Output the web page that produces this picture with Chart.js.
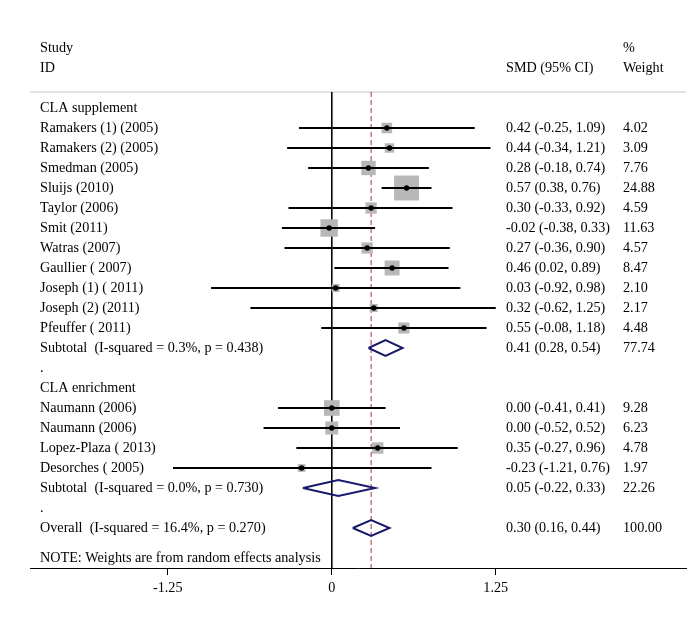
<!DOCTYPE html>
<html><head><meta charset="utf-8">
<script src="https://cdn.jsdelivr.net/npm/chart.js@4/dist/chart.umd.min.js"></script>
<style>html,body{margin:0;padding:0;background:#fff}#wrap{width:696px;height:627px}</style>
</head><body><div id="wrap"><canvas id="c" width="696" height="627"></canvas></div>
<script>
// ---- data ----
const groupNames = ["CLA supplement", "CLA enrichment"];
const studyNames1 = ["Ramakers (1) (2005)", "Ramakers (2) (2005)", "Smedman (2005)", "Sluijs (2010)", "Taylor (2006)", "Smit (2011)", "Watras (2007)", "Gaullier ( 2007)", "Joseph (1) ( 2011)", "Joseph (2) (2011)", "Pfeuffer ( 2011)"];
const smd1 = [0.42, 0.44, 0.28, 0.57, 0.30, -0.02, 0.27, 0.46, 0.03, 0.32, 0.55];
const lo1 = [-0.25, -0.34, -0.18, 0.38, -0.33, -0.38, -0.36, 0.02, -0.92, -0.62, -0.08];
const hi1 = [1.09, 1.21, 0.74, 0.76, 0.92, 0.33, 0.90, 0.89, 0.98, 1.25, 1.18];
const weight1 = [4.02, 3.09, 7.76, 24.88, 4.59, 11.63, 4.57, 8.47, 2.10, 2.17, 4.48];
const studyNames2 = ["Naumann (2006)", "Naumann (2006)", "Lopez-Plaza ( 2013)", "Desorches ( 2005)"];
const smd2 = [0.00, 0.00, 0.35, -0.23];
const lo2 = [-0.41, -0.52, -0.27, -1.21];
const hi2 = [0.41, 0.52, 0.96, 0.76];
const weight2 = [9.28, 6.23, 4.78, 1.97];
const subtotalLabels = ["Subtotal  (I-squared = 0.3%, p = 0.438)", "Subtotal  (I-squared = 0.0%, p = 0.730)"];
const subtotalSmd = [0.41, 0.05];
const subtotalLo = [0.28, -0.22];
const subtotalHi = [0.54, 0.33];
const subtotalWeight = [77.74, 22.26];
const overallLabel = "Overall  (I-squared = 16.4%, p = 0.270)";
const overallSmd = 0.30, overallLo = 0.16, overallHi = 0.44, overallWeight = 100.00;
const noteText = "NOTE: Weights are from random effects analysis";
const xTicks = [-1.25, 0, 1.25];
const xTickLabels = ["-1.25", "0", "1.25"];

// ---- build rows ----
const rows = [];
let r = 0;
function addGroup(name, names, smd, lo, hi, w, si) {
  rows.push({label: name, type: 'head', r: r++});
  names.forEach((n, i) => rows.push({label: n, type: 'study', smd: smd[i], lo: lo[i], hi: hi[i], w: w[i], r: r++}));
  rows.push({label: subtotalLabels[si], type: 'sub', smd: subtotalSmd[si], lo: subtotalLo[si], hi: subtotalHi[si], w: subtotalWeight[si], r: r++});
  rows.push({label: '.', type: 'dot', r: r++});
}
addGroup(groupNames[0], studyNames1, smd1, lo1, hi1, weight1, 0);
addGroup(groupNames[1], studyNames2, smd2, lo2, hi2, weight2, 1);
rows.push({label: overallLabel, type: 'sub', smd: overallSmd, lo: overallLo, hi: overallHi, w: overallWeight, r: r++});
const noteRow = r + 0.5;

const studyRows = rows.filter(o => o.type === 'study');
const diaRows = rows.filter(o => o.type === 'sub');
const X_MIN = -2.3, X_MAX = 2.7, Y_TOP = -0.8, Y_BOT = 23;

const ciData = [];
studyRows.forEach(o => { ciData.push({x: o.lo, y: o.r}, {x: o.hi, y: o.r}, {x: o.hi, y: null}); });
const diaData = [];
diaRows.forEach(o => { diaData.push({x: o.lo, y: o.r}, {x: o.smd, y: o.r - 0.4}, {x: o.hi, y: o.r}, {x: o.smd, y: o.r + 0.4}, {x: o.lo, y: o.r}, {x: o.lo, y: null}); });

const F = '"Liberation Serif", "Times New Roman", serif';
const FS = 14.2;

const textPlugin = {
  id: 'forestText',
  afterDraw(chart) {
    const ctx = chart.ctx, ys = chart.scales.y;
    ctx.save();
    ctx.fillStyle = '#000';
    ctx.font = FS + 'px ' + F;
    ctx.textBaseline = 'middle';
    ctx.textAlign = 'left';
    const Y = v => ys.getPixelForValue(v);
    ctx.fillText('Study', 40, Y(-3));
    ctx.fillText('ID', 40, Y(-2));
    ctx.fillText('SMD (95% CI)', 506, Y(-2));
    ctx.fillText('%', 623, Y(-3));
    ctx.fillText('Weight', 623, Y(-2));
    rows.forEach(o => {
      ctx.fillText(o.label, 40, Y(o.r));
      if (o.type === 'study' || o.type === 'sub') {
        ctx.fillText(`${o.smd.toFixed(2)} (${o.lo.toFixed(2)}, ${o.hi.toFixed(2)})`, 506, Y(o.r));
        ctx.fillText(o.w.toFixed(2), 623, Y(o.r));
      }
    });
    ctx.fillText(noteText, 40, Y(noteRow));
    ctx.restore();
  }
};

new Chart(document.getElementById('c'), {
  type: 'scatter',
  data: {
    datasets: [
      { type: 'scatter', data: studyRows.map(o => ({x: o.smd, y: o.r})), pointStyle: 'circle', pointRadius: 2.7, pointBackgroundColor: '#000', pointBorderWidth: 0, order: 0 },
      { type: 'line', data: ciData, borderColor: '#000', borderWidth: 2, pointRadius: 0, spanGaps: false, fill: false, order: 1 },
      { type: 'scatter', data: studyRows.map(o => ({x: o.smd, y: o.r})), pointStyle: 'rect', pointRadius: studyRows.map(o => (1 + 4.8 * Math.sqrt(o.w)) / 2 / Math.SQRT1_2), pointBackgroundColor: '#b8b8b8', pointBorderWidth: 0, order: 2 },
      { type: 'line', data: diaData, borderColor: '#1a1a6b', borderWidth: 2, pointRadius: 0, spanGaps: false, fill: false, order: 1.5 },
      { type: 'line', data: [{x: 0, y: Y_TOP}, {x: 0, y: Y_BOT}], borderColor: '#000', borderWidth: 1, pointRadius: 0, order: 5 },
      { type: 'line', data: [{x: overallSmd, y: Y_TOP}, {x: overallSmd, y: Y_BOT}], borderColor: '#a3344f', borderWidth: 1, borderDash: [5, 3], pointRadius: 0, order: 4 },
      { type: 'line', data: [{x: X_MIN, y: Y_TOP}, {x: X_MAX, y: Y_TOP}], borderColor: '#c4c4c4', borderWidth: 1, pointRadius: 0, order: 6 }
    ]
  },
  options: {
    responsive: false,
    animation: false,
    devicePixelRatio: 1,
    layout: { autoPadding: false, padding: { top: 88, left: 30, right: 10, bottom: 0 } },
    plugins: { legend: { display: false }, tooltip: { enabled: false } },
    scales: {
      x: {
        type: 'linear', min: X_MIN, max: X_MAX,
        afterBuildTicks: s => { s.ticks = xTicks.map(v => ({value: v})); },
        afterFit: s => { s.height = 59; },
        ticks: { callback: (v) => xTickLabels[xTicks.indexOf(v)], color: '#000', font: { family: F, size: FS }, padding: 5, maxRotation: 0, autoSkip: false },
        grid: { drawOnChartArea: false, drawTicks: true, tickLength: 7, color: '#000' },
        border: { display: true, color: '#000', width: 1 }
      },
      y: { type: 'linear', reverse: true, min: -1, max: 23, display: false }
    }
  },
  plugins: [textPlugin]
});
</script>
</body></html>
